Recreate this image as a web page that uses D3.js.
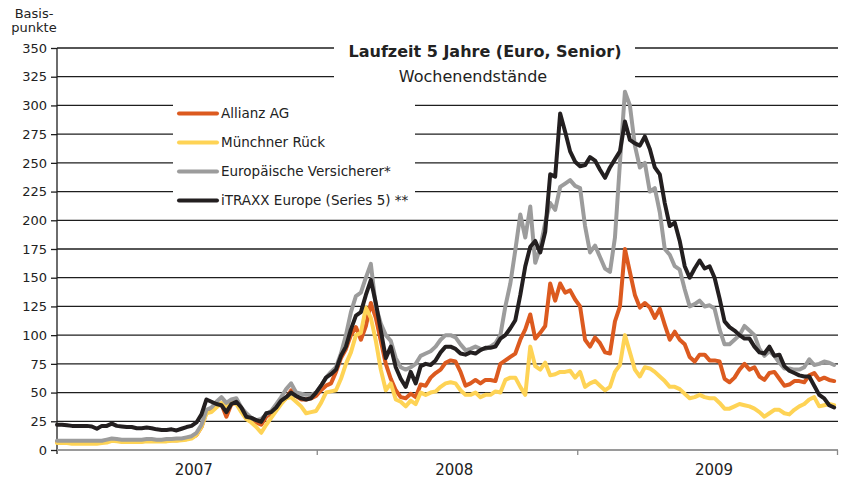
<!DOCTYPE html>
<html>
<head>
<meta charset="utf-8">
<script src="https://cdn.jsdelivr.net/npm/d3@7"></script>
<style>
  html, body { margin: 0; padding: 0; background: #fff; }
  svg { display: block; font-family: "DejaVu Sans", Verdana, sans-serif; }
</style>
</head>
<body>
<svg id="chart" width="841" height="479"></svg>
<script>
// ---------- DATA (weekly values, first week starting 2007-01-01) ----------
const firstWeek = "2007-01-01";
const seriesNames = ["Allianz AG", "Münchner Rück", "Europäische Versicherer*", "iTRAXX Europe (Series 5) **"];
const seriesColors = ["#dc5a1f", "#fed355", "#9c9c9c", "#231f20"];
const yTicks = [0, 25, 50, 75, 100, 125, 150, 175, 200, 225, 250, 275, 300, 325, 350];
const yearLabels = ["2007", "2008", "2009"];
const titleText = "Laufzeit 5 Jahre (Euro, Senior)";
const subtitleText = "Wochenendstände";
const yAxisLabel = ["Basis-", "punkte"];

const allianz = [
  7,7,7,6.5,6.5,6.5,6.5,6.5,6.5,7,7.5,8.5,8,7.5,7.5,7.5,7.5,7.5,8,8,8,8,8,8.5,8.5,9,
  10,11,13,20,33,34,38,40,29,40,41,35,29,27,24,22,29,32,37,42,45,52,47,44,44,45,
  47,52,56,58,68,80,88,100,107,96,108,128,115,95,75,62,52,46,45,49,46,57,56,63,67,70,
  76,78,77,68,56,58,61,58,61,61,60,75,78,81,84,96,105,118,97,102,108,145,130,145,137,139,
  131,125,96,90,98,93,85,84,112,125,175,155,135,124,128,124,115,123,109,96,103,96,92,81,
  77,83,83,78,78,77,62,59,63,70,75,70,72,64,61,67,68,62,56,57,60,60,59,65,67,61,63,61,60
];
const muenchnerRueck = [
  6,6,6,5.5,5.5,5.5,5.5,5.5,5.5,6,6.5,8,7.5,7,7,7,7,7,7.5,7.5,7.5,7.5,7.5,8,8,8.5,
  9,10,13,20,32,33,37,41,38,41,40,33,27,24,20,15,22,28,34,40,45,46,42,38,32,33,
  34,41,50,51,52,62,75,85,100,102,124,115,95,70,52,58,44,42,38,43,40,50,48,50,51,55,
  58,59,58,52,48,48,50,46,48,48,51,50,61,63,63,55,48,90,73,70,76,65,66,68,68,69,
  63,68,55,58,60,56,52,55,68,74,100,85,70,64,72,71,68,64,60,55,55,53,49,45,
  46,48,46,45,45,41,36,36,38,40,39,38,36,33,29,32,35,35,32,31,35,38,40,44,46,38,39,40,39
];
const europVersicherer = [
  8,8,8,8,8,8,8,8,8,8,9,10,9.5,9,9,9,9,9,9.5,9.5,9,9,9.5,9.5,10,10,
  11,12,15,22,35,37,42,46,41,44,45,37,32,28,26,27,31,34,40,46,53,58,50,49,48,48,
  50,56,63,68,72,84,100,120,134,137,150,162,125,110,100,95,80,72,70,72,75,82,84,86,90,96,
  100,100,98,92,87,88,90,88,88,90,93,100,125,145,174,205,185,212,163,176,198,215,209,229,232,235,
  230,228,195,172,178,168,158,155,185,250,312,300,265,246,250,225,228,207,175,170,160,157,140,125,
  127,130,125,126,123,105,92,92,96,100,108,104,100,88,82,86,82,76,71,71,70,70,72,79,74,75,77,76,74
];
const itraxx = [
  22,22,21.5,21,21,21,21,20.5,18.5,21,21,23,21,20.5,20,20,19,19,19.5,19,18,17.5,17.5,18,17,18.5,
  20,21,24,31,44,42,40,39,33,40,42,37,29,28,26,24.5,32,33,37,43,46,50,47,45,44,45,
  50,56,63,66,70,82,90,105,117,120,135,148,128,104,80,90,72,62,55,68,58,73,75,74,78,85,
  90,90,88,84,83,85,84,87,89,89,90,97,100,106,113,135,160,177,182,172,190,240,238,293,277,260,
  251,247,248,255,252,244,237,246,253,260,286,270,267,265,273,262,246,240,215,195,198,182,160,150,
  158,165,158,160,150,132,112,107,104,100,97,97,90,85,84,90,82,83,73,69,67,65,64,64,56,48,45,39,37
];
const seriesValues = [allianz, muenchnerRueck, europVersicherer, itraxx];

// ---------- LAYOUT ----------
const svg = d3.select("#chart");
const plot = { left: 57, right: 837, top: 48, bottom: 450 };

const t0 = d3.timeParse("%Y-%m-%d")(firstWeek);
const dates = d3.range(itraxx.length).map(i => d3.timeWeek.offset(t0, i));

const x = d3.scaleTime()
  .domain([new Date(2007, 0, 1), new Date(2010, 0, 1)])
  .range([plot.left, plot.right]);
const y = d3.scaleLinear().domain([0, 350]).range([plot.bottom, plot.top]);

// gridlines
svg.append("g").selectAll("line")
  .data(yTicks.filter(v => v > 0))
  .join("line")
  .attr("x1", plot.left).attr("x2", plot.right + 1)
  .attr("y1", d => y(d)).attr("y2", d => y(d))
  .attr("stroke", "#1e1e1e").attr("stroke-width", 1.3);

// y axis
const yAxis = d3.axisLeft(y).tickValues(yTicks).tickSize(6).tickPadding(4);
const gy = svg.append("g").attr("transform", `translate(${plot.left},0)`).call(yAxis);
gy.select(".domain").remove();
gy.selectAll(".tick line").attr("stroke", "#1e1e1e").attr("stroke-width", 1.3);
gy.selectAll(".tick text").attr("font-size", 13).attr("fill", "#222")
  .attr("font-family", "DejaVu Sans, Verdana, sans-serif");
svg.append("line")
  .attr("x1", plot.left).attr("x2", plot.left)
  .attr("y1", plot.top).attr("y2", plot.bottom + 4)
  .attr("stroke", "#1e1e1e").attr("stroke-width", 1.3);

// x axis
const yearStarts = [new Date(2008, 0, 1), new Date(2009, 0, 1), new Date(2010, 0, 1)];
const xAxis = d3.axisBottom(x).tickValues(yearStarts).tickSize(5).tickFormat("");
const gx = svg.append("g").attr("transform", `translate(0,${plot.bottom})`).call(xAxis);
gx.select(".domain").attr("stroke", "#9a9a9a").attr("stroke-width", 2)
  .attr("d", `M${plot.left},0H${plot.right + 1}`);
gx.selectAll(".tick line").attr("stroke", "#8a8a8a").attr("stroke-width", 1.3);

svg.append("g").selectAll("text")
  .data(yearLabels)
  .join("text")
  .attr("x", d => x(new Date(+d, 6, 1)) + 8)
  .attr("y", 475)
  .attr("text-anchor", "middle")
  .attr("font-size", 15)
  .attr("fill", "#222")
  .text(d => d);

// y label
svg.append("g").selectAll("text")
  .data(yAxisLabel)
  .join("text")
  .attr("x", 34)
  .attr("y", (d, i) => 18.3 + i * 14)
  .attr("text-anchor", "middle")
  .attr("font-size", 13)
  .attr("fill", "#222")
  .text(d => d);

// lines
const line = d3.line()
  .x((d, i) => x(dates[i]))
  .y(d => y(d));

svg.append("g").selectAll("path")
  .data(seriesValues)
  .join("path")
  .attr("d", d => line(d))
  .attr("fill", "none")
  .attr("stroke", (d, i) => seriesColors[i])
  .attr("stroke-width", 4)
  .attr("stroke-linejoin", "round")
  .attr("stroke-linecap", "round");

// title box
svg.append("rect")
  .attr("x", 334).attr("y", 38).attr("width", 301).attr("height", 50)
  .attr("fill", "#fff");
svg.append("text")
  .attr("x", 485).attr("y", 57)
  .attr("text-anchor", "middle")
  .attr("font-size", 16).attr("font-weight", "bold").attr("fill", "#222")
  .text(titleText);
svg.append("text")
  .attr("x", 473).attr("y", 82)
  .attr("text-anchor", "middle")
  .attr("font-size", 16).attr("fill", "#222")
  .text(subtitleText);

// legend
svg.append("rect")
  .attr("x", 173).attr("y", 98).attr("width", 242).attr("height", 115)
  .attr("fill", "#fff");
const leg = svg.append("g").selectAll("g")
  .data(seriesNames)
  .join("g")
  .attr("transform", (d, i) => `translate(177,${113.5 + i * 29})`);
leg.append("line")
  .attr("x1", 2).attr("x2", 40)
  .attr("stroke", (d, i) => seriesColors[i])
  .attr("stroke-width", 4).attr("stroke-linecap", "round");
leg.append("text")
  .attr("x", 44).attr("y", 4.8)
  .attr("font-size", 13.5).attr("fill", "#222")
  .text(d => d);
</script>
</body>
</html>
